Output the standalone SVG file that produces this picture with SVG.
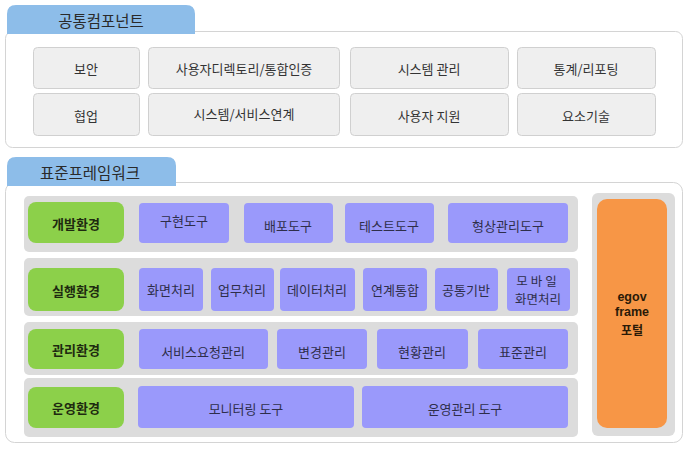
<svg xmlns="http://www.w3.org/2000/svg" width="695" height="452" viewBox="0 0 695 452">
<style>
text{font-family:"Noto Sans CJK KR","Noto Sans",sans-serif;text-anchor:middle;dominant-baseline:central;fill:#333}
.tab{fill:#8dbde9}
.tabt{font-size:15.5px;fill:#2a2a2a}
.panel{fill:#fff;stroke:#d4d4d4;stroke-width:1}
.comp{fill:#efefef;stroke:#d0d0d0;stroke-width:1}
.ct{font-size:13px}
.row{fill:#dcdcdc}
.env{fill:#8cd04a}
.et{font-size:13px;font-weight:bold;fill:#1e2a10}
.item{fill:#9a99fb}
.it{font-size:13px;fill:#2e2e4a}
.ot{font-size:12.5px;font-weight:bold;fill:#2a1a08;font-family:"Liberation Sans","Noto Sans CJK KR",sans-serif}
</style>
<g id="common">
<rect class="panel" x="5.5" y="31.5" width="677" height="116" rx="7"/>
<path class="tab" d="M7,34 V14 Q7,5 16,5 H186 Q195,5 195,14 V34 Z"/>
<text class="tabt" x="101" y="20">공통컴포넌트</text>
</g>
<g id="c-security"><rect class="comp" x="33.5" y="47.5" width="106" height="41" rx="4"/><text class="ct" x="86" y="68">보안</text></g>
<g id="c-directory"><rect class="comp" x="148.5" y="47.5" width="191" height="41" rx="4"/><text class="ct" x="244" y="68">사용자디렉토리/통합인증</text></g>
<g id="c-sysmgmt"><rect class="comp" x="350.5" y="47.5" width="158" height="41" rx="4"/><text class="ct" x="429" y="68">시스템 관리</text></g>
<g id="c-stats"><rect class="comp" x="517.5" y="47.5" width="138" height="41" rx="4"/><text class="ct" x="586" y="68">통계/리포팅</text></g>
<g id="c-collab"><rect class="comp" x="33.5" y="93.5" width="106" height="42" rx="4"/><text class="ct" x="86" y="115">협업</text></g>
<g id="c-syslink"><rect class="comp" x="148.5" y="93.5" width="191" height="42" rx="4"/><text class="ct" x="244" y="113">시스템/서비스연계</text></g>
<g id="c-support"><rect class="comp" x="350.5" y="93.5" width="158" height="42" rx="4"/><text class="ct" x="429" y="115">사용자 지원</text></g>
<g id="c-element"><rect class="comp" x="517.5" y="93.5" width="138" height="42" rx="4"/><text class="ct" x="586" y="115">요소기술</text></g>

<g id="framework">
<rect class="panel" x="5.5" y="182.5" width="677" height="260" rx="9"/>
<path class="tab" d="M7,186 V166 Q7,157 16,157 H167 Q176,157 176,166 V186 Z"/>
<text class="tabt" x="90" y="172">표준프레임워크</text>
</g>
<g id="rows">
<rect class="row" x="24" y="196" width="554" height="56" rx="5"/>
<rect class="row" x="24" y="258" width="554" height="58" rx="5"/>
<rect class="row" x="24" y="322" width="554" height="53" rx="5"/>
<rect class="row" x="24" y="378" width="554" height="59" rx="5"/>
</g>
<g id="env-dev"><rect class="env" x="28" y="202" width="96" height="41" rx="8"/><text class="et" x="76" y="223">개발환경</text></g>
<g id="env-run"><rect class="env" x="28" y="268" width="96" height="43" rx="8"/><text class="et" x="76" y="290">실행환경</text></g>
<g id="env-mgmt"><rect class="env" x="28" y="329" width="96" height="40" rx="8"/><text class="et" x="76" y="349">관리환경</text></g>
<g id="env-ops"><rect class="env" x="28" y="387" width="96" height="41" rx="8"/><text class="et" x="76" y="407">운영환경</text></g>

<g id="i-impl"><rect class="item" x="139" y="203" width="90" height="40" rx="4"/><text class="it" x="184" y="220">구현도구</text></g>
<g id="i-deploy"><rect class="item" x="244" y="203" width="89" height="40" rx="4"/><text class="it" x="288" y="225">배포도구</text></g>
<g id="i-test"><rect class="item" x="345" y="203" width="89" height="40" rx="4"/><text class="it" x="389" y="225">테스트도구</text></g>
<g id="i-config"><rect class="item" x="448" y="203" width="120" height="40" rx="4"/><text class="it" x="508" y="225">형상관리도구</text></g>

<g id="i-screen"><rect class="item" x="139" y="268" width="64" height="43" rx="4"/><text class="it" x="171" y="289">화면처리</text></g>
<g id="i-biz"><rect class="item" x="211" y="268" width="63" height="43" rx="4"/><text class="it" x="242" y="289">업무처리</text></g>
<g id="i-data"><rect class="item" x="280" y="268" width="75" height="43" rx="4"/><text class="it" x="317" y="289">데이터처리</text></g>
<g id="i-integ"><rect class="item" x="363" y="268" width="64" height="43" rx="4"/><text class="it" x="395" y="289">연계통합</text></g>
<g id="i-common"><rect class="item" x="435" y="268" width="63" height="43" rx="4"/><text class="it" x="466" y="289">공통기반</text></g>
<g id="i-mobile"><rect class="item" x="507" y="268" width="63" height="43" rx="4"/><text class="it" x="538" y="280" style="font-size:12.5px" letter-spacing="3">모바일</text><text class="it" x="538" y="298" style="font-size:12.5px">화면처리</text></g>

<g id="i-svcreq"><rect class="item" x="139" y="329" width="129" height="40" rx="4"/><text class="it" x="203" y="351">서비스요청관리</text></g>
<g id="i-change"><rect class="item" x="277" y="329" width="90" height="40" rx="4"/><text class="it" x="322" y="351">변경관리</text></g>
<g id="i-status"><rect class="item" x="377" y="329" width="91" height="40" rx="4"/><text class="it" x="422" y="351">현황관리</text></g>
<g id="i-std"><rect class="item" x="478" y="329" width="90" height="40" rx="4"/><text class="it" x="523" y="351">표준관리</text></g>

<g id="i-monitor"><rect class="item" x="138" y="386" width="216" height="42" rx="4"/><text class="it" x="246" y="408">모니터링 도구</text></g>
<g id="i-opsmgmt"><rect class="item" x="362" y="386" width="206" height="42" rx="4"/><text class="it" x="465" y="408">운영관리 도구</text></g>

<g id="portal">
<rect class="row" x="592" y="193" width="83" height="243" rx="6"/>
<rect fill="#f79646" x="597" y="199" width="70" height="229" rx="10"/>
<text class="ot" x="632" y="297">egov</text>
<text class="ot" x="632" y="312">frame</text>
<text class="ot" x="632" y="329" style="font-family:'Noto Sans CJK KR',sans-serif;font-size:12px">포털</text>
</g>
<g id="connectors"></g>
</svg>
